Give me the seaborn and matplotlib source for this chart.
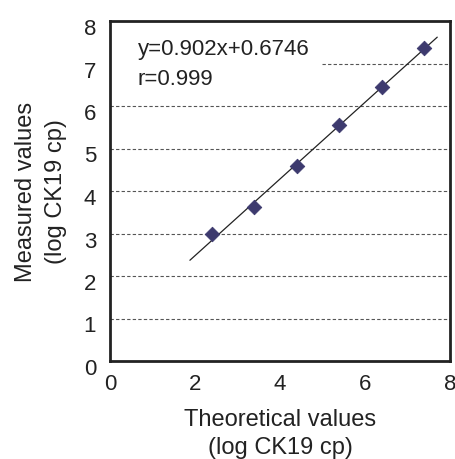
import matplotlib
matplotlib.use("Agg")
import matplotlib.pyplot as plt
import matplotlib.transforms as mtransforms
import seaborn as sns
import numpy as np
import pandas as pd

theoretical = [2.4, 3.4, 4.4, 5.4, 6.4, 7.4]
measured = [2.98, 3.62, 4.60, 5.56, 6.44, 7.37]
slope = 0.902
intercept = 0.6746
fit_x = [1.88, 7.7]
eq_text = "y=0.902x+0.6746"
r_text = "r=0.999"
ticks = [0, 2, 4, 6, 8]
yticks = [0, 1, 2, 3, 4, 5, 6, 7, 8]

sns.set_theme(style="white")
plt.rcParams['font.family'] = ['Liberation Sans', 'DejaVu Sans']

fig = plt.figure(figsize=(4.56, 4.60), dpi=100)
ax = fig.add_axes([110/456, 98/460, 340/456, 340/460])

df = pd.DataFrame({"x": theoretical, "y": measured})
fx = np.array(fit_x)
fit_df = pd.DataFrame({"x": fx, "y": slope * fx + intercept})

for g in yticks[1:-1]:
    if g == 7:
        ax.plot([5.0, 8], [g, g], ls=(0, (3, 2)), color="#555555", lw=0.8, zorder=1)
    else:
        ax.axhline(g, ls=(0, (3, 2)), color="#555555", lw=0.8, zorder=1)

sns.lineplot(data=fit_df, x="x", y="y", ax=ax, color="#222222", lw=0.9, zorder=2)
sns.scatterplot(data=df, x="x", y="y", ax=ax, marker="D", s=55, color="#3d3a6e",
                edgecolor="#3d3a6e", zorder=3)

ax.set_xlim(0, 8)
ax.set_ylim(0, 8)
ax.set_xticks(ticks)
ax.set_yticks(yticks)
ax.tick_params(direction="in", length=5, width=2, labelsize=16, colors="#222222")
ax.tick_params(axis="y", pad=10)
ax.tick_params(axis="x", pad=9)
for s in ax.spines.values():
    s.set_linewidth(2)
    s.set_color("#222222")

off = mtransforms.ScaledTranslation(0, -5/100, fig.dpi_scale_trans)
for lab in ax.get_yticklabels():
    lab.set_transform(lab.get_transform() + off)

ax.set_xlabel("Theoretical values\n(log CK19 cp)", fontsize=17, color="#222222",
              labelpad=10, linespacing=1.35)
ax.set_ylabel("Measured values\n(log CK19 cp)", fontsize=17, color="#222222",
              labelpad=12, linespacing=1.45)

ax.text(0.65, 7.36, eq_text, fontsize=16, color="#222222", va="center")
ax.text(0.65, 6.64, r_text, fontsize=16, color="#222222", va="center")

fig.savefig("out.png", dpi=100)
